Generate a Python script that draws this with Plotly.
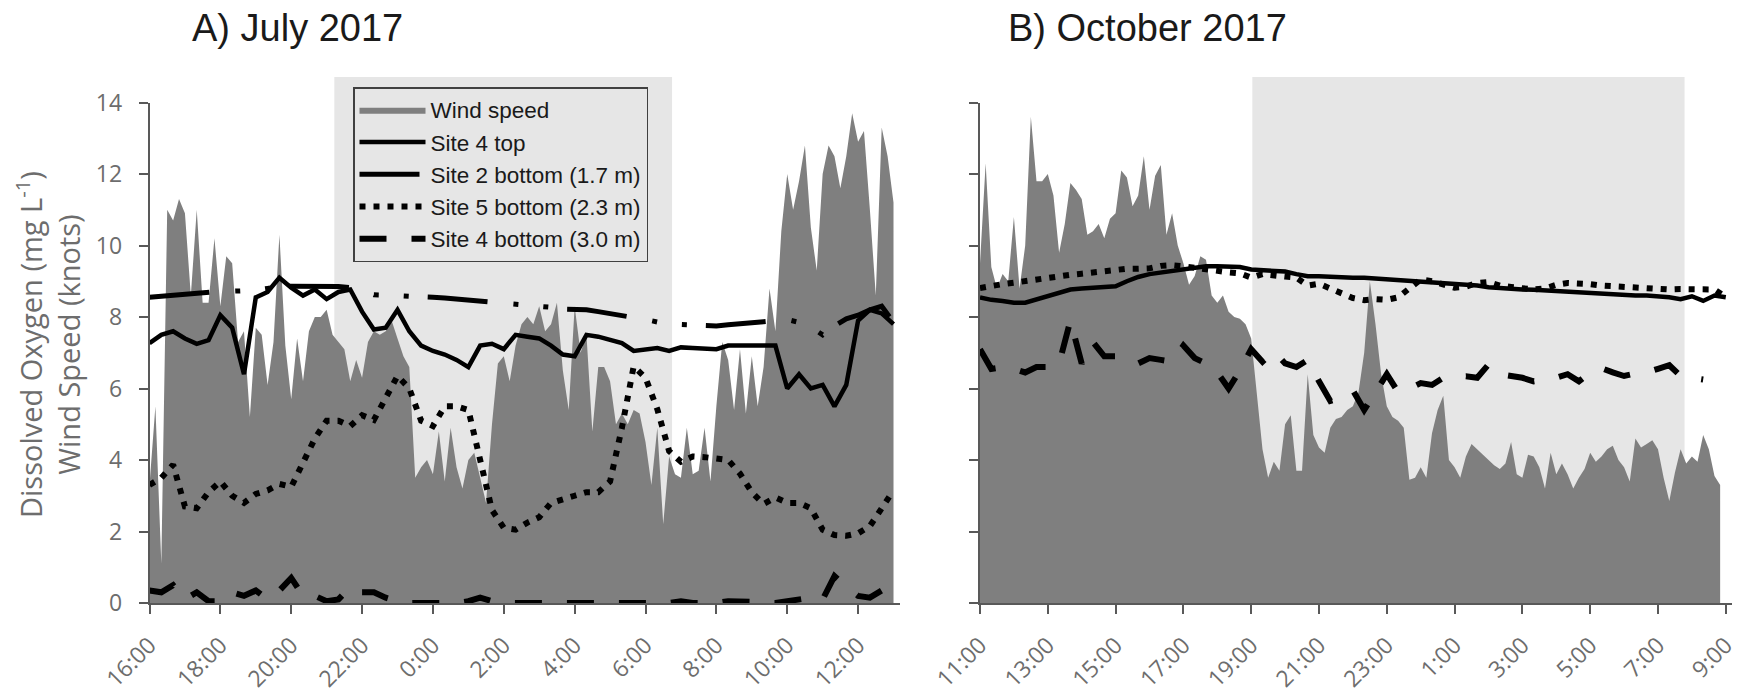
import pandas as pd
import plotly.graph_objects as go

# ---------------- Panel A: July 2017 ----------------
A_START = "2017-07-19 16:00"
A_END = "2017-07-20 13:11"
A_NIGHT = ["2017-07-19 21:13", "2017-07-20 06:45"]
A_TICK_LABELS = ["16:00", "18:00", "20:00", "22:00", "0:00", "2:00",
                 "4:00", "6:00", "8:00", "10:00", "12:00"]

# wind speed (knots), 10-min steps from 16:00
wind_A = [3.3, 5.5, 1.1, 11.0, 10.7, 11.3, 10.9, 8.6, 11.0, 8.4,
          8.4, 10.2, 8.3, 9.7, 9.5, 7.3, 7.6, 5.2, 7.7, 7.5,
          6.1, 7.3, 10.3, 7.2, 5.7, 7.4, 6.2, 7.6, 8.0, 8.0,
          8.2, 7.5, 7.3, 7.1, 6.2, 6.8, 6.3, 7.3, 7.6, 7.5,
          7.6, 7.9, 7.4, 6.9, 6.6, 3.5, 3.8, 4.0, 3.6, 4.8,
          3.4, 4.9, 3.8, 3.2, 4.0, 4.2, 3.5, 2.8, 5.0, 6.7,
          6.9, 6.2, 7.2, 7.8, 8.0, 7.8, 8.3, 7.6, 7.8, 8.4,
          6.5, 5.4, 8.3, 7.0, 7.5, 4.8, 6.6, 6.6, 6.2, 5.0,
          5.3, 5.0, 5.4, 5.3, 4.5, 3.3, 4.9, 2.2, 4.1, 3.6,
          3.5, 4.9, 3.6, 3.7, 4.9, 3.4, 5.5, 7.3, 6.8, 5.4,
          7.1, 5.3, 6.9, 5.5, 6.6, 8.8, 7.6, 10.4, 12.0, 11.0,
          11.8, 12.8, 10.5, 9.3, 12.0, 12.8, 12.5, 11.6, 12.5, 13.7,
          12.9, 13.2, 11.0, 8.6, 13.3, 12.5, 11.2]

# dissolved oxygen (mg/L), 20-min steps from 16:00
site4_top_A = [7.27, 7.5, 7.6, 7.4, 7.25, 7.35, 8.05, 7.7, 6.4, 8.55,
               8.7, 9.1, 8.82, 8.6, 8.77, 8.5, 8.7, 8.77, 8.15, 7.65,
               7.7, 8.2, 7.6, 7.2, 7.05, 6.95, 6.8, 6.6, 7.2, 7.25,
               7.1, 7.5, 7.45, 7.4, 7.2, 6.95, 6.9, 7.5, 7.45, 7.35,
               7.27, 7.05, 7.1, 7.13, 7.05, 7.15, 7.13, 7.1, 7.1, 7.2,
               7.2, 7.2, 7.22, 7.2, 6.0, 6.4, 6.0, 6.1, 5.5, 6.1,
               7.9, 8.2, 8.1, 7.8]
site2_bottom_A = [8.55, 8.58, 8.6, 8.63, 8.65, 8.7, 8.72, 8.72, 8.72, 8.75,
                  8.8, 8.85, 8.86, 8.86, 8.86, 8.85, 8.85, 8.82, 8.75, 8.62,
                  8.62, 8.6, 8.58, 8.55, 8.55, 8.53, 8.5, 8.48, 8.45, 8.44,
                  8.4, 8.35, 8.32, 8.3, 8.27, 8.22, 8.21, 8.2, 8.15, 8.1,
                  8.05, 8.0, 7.93, 7.86, 7.8, 7.79, 7.77, 7.74, 7.75, 7.78,
                  7.8, 7.83, 7.87, 7.9, 7.93, 7.85, 7.72, 7.5, 7.75, 7.95,
                  8.05, 8.2, 8.3, 7.85]
site5_bottom_A = [3.3, 3.5, 3.87, 2.7, 2.65, 3.1, 3.4, 3.0, 2.8, 3.05,
                  3.15, 3.33, 3.25, 3.9, 4.6, 5.1, 5.1, 4.95, 5.25, 5.12,
                  5.75, 6.35, 6.0, 5.1, 4.95, 5.5, 5.5, 5.4, 4.0, 2.6,
                  2.1, 2.05, 2.25, 2.4, 2.8, 2.88, 3.0, 3.1, 3.1, 3.4,
                  4.9, 6.62, 6.3, 5.42, 4.25, 3.95, 4.1, 4.08, 4.05, 4.0,
                  3.62, 3.1, 2.77, 2.95, 2.8, 2.8, 2.65, 2.05, 1.9, 1.88,
                  1.95, 2.15, 2.65, 3.15]
site4_bottom_A = [0.35, 0.3, 0.5, 0.1, 0.3, 0.05, 0.05, 0.3, 0.2, 0.35,
                  0.1, 0.35, 0.7, 0.2, 0.2, 0.05, 0.1, 0.45, 0.3, 0.3,
                  0.15, 0.05, 0.0, 0.0, 0.0, 0.0, 0.0, 0.05, 0.15, 0.05,
                  0.0, 0.0, 0.0, 0.0, 0.0, 0.0, 0.0, 0.0, 0.0, 0.0,
                  0.0, 0.02, 0.02, 0.0, 0.0, 0.05, 0.0, 0.0, 0.0, 0.05,
                  0.05, 0.03, 0.0, 0.0, 0.05, 0.1, 0.15, 0.1, 0.75, 0.45,
                  0.2, 0.15, 0.35, 0.45]

# ---------------- Panel B: October 2017 ----------------
B_START = "2017-10-17 11:00"
B_END = "2017-10-18 09:11"
B_NIGHT = ["2017-10-17 19:02", "2017-10-18 07:47"]
B_TICK_LABELS = ["11:00", "13:00", "15:00", "17:00", "19:00", "21:00",
                 "23:00", "1:00", "3:00", "5:00", "7:00", "9:00"]

wind_B = [9.5, 12.3, 9.4, 8.8, 9.2, 9.0, 10.8, 8.8, 10.0, 13.6,
          11.8, 11.8, 12.0, 11.4, 9.8, 10.6, 11.75, 11.55, 11.3, 10.3,
          10.4, 10.6, 10.2, 10.75, 10.9, 12.1, 11.9, 11.1, 11.4, 12.5,
          11.0, 11.95, 12.25, 10.3, 10.9, 10.0, 9.5, 8.9, 9.15, 9.7,
          9.6, 8.6, 8.4, 8.6, 8.15, 8.0, 7.95, 7.8, 7.4, 5.9,
          4.3, 3.5, 3.95, 3.7, 5.0, 5.25, 3.7, 3.7, 6.4, 4.7,
          4.35, 4.2, 4.9, 5.15, 5.2, 5.4, 5.5, 5.9, 7.0, 9.0,
          7.8, 6.4, 5.5, 5.2, 5.1, 4.9, 3.45, 3.5, 3.8, 3.5,
          4.75, 5.4, 5.8, 4.0, 3.8, 3.5, 4.1, 4.45, 4.3, 4.15,
          4.0, 3.85, 3.75, 3.9, 4.5, 3.6, 3.5, 4.15, 4.1, 3.8,
          3.2, 4.2, 3.6, 3.9, 3.6, 3.2, 3.5, 3.75, 4.2, 3.95,
          4.1, 4.3, 4.4, 4.0, 3.8, 3.4, 4.6, 4.35, 4.45, 4.55,
          4.3, 3.5, 2.85, 3.65, 4.3, 3.9, 4.1, 3.95, 4.7, 4.3,
          3.55, 3.3]

site4_top_B = [8.55, 8.48, 8.45, 8.4, 8.4, 8.5, 8.6, 8.7, 8.77, 8.8,
               8.83, 8.85, 8.86, 9.0, 9.12, 9.2, 9.25, 9.3, 9.34, 9.4,
               9.42, 9.42, 9.42, 9.4, 9.33, 9.3, 9.28, 9.27, 9.2, 9.14,
               9.14, 9.12, 9.12, 9.1, 9.1, 9.08, 9.06, 9.04, 9.02, 9.0,
               8.98, 8.97, 8.95, 8.92, 8.88, 8.83, 8.8, 8.78, 8.77, 8.76,
               8.74, 8.72, 8.7, 8.68, 8.66, 8.65, 8.64, 8.62, 8.6, 8.6,
               8.58, 8.55, 8.5, 8.58, 8.45, 8.6, 8.55]
site5_bottom_B = [8.81, 8.88, 8.92, 8.96, 9.01, 9.06, 9.1, 9.14, 9.18, 9.21,
                  9.25, 9.28, 9.33, 9.35, 9.35, 9.36, 9.43, 9.45, 9.42, 9.37,
                  9.32, 9.26, 9.25, 9.22, 9.1, 9.2, 9.15, 9.13, 9.1, 8.88,
                  8.93, 8.8, 8.7, 8.53, 8.47, 8.5, 8.48, 8.55, 8.8, 9.05,
                  9.0, 8.92, 8.82, 8.85, 8.95, 8.98, 8.88, 8.84, 8.8, 8.77,
                  8.8, 8.9, 8.95, 8.95, 8.92, 8.88, 8.86, 8.86, 8.8, 8.78,
                  8.78, 8.77, 8.78, 8.77, 8.77, 8.77, 8.56]
site4_bottom_B = [7.1, 6.55, 6.6, 6.55, 6.45, 6.6, 6.6, 6.7, 7.9, 6.7,
                  7.3, 6.9, 6.9, 6.75, 6.7, 6.85, 6.8, 6.75, 7.2, 6.85,
                  6.7, 6.45, 6.0, 6.5, 7.1, 6.75, 7.05, 6.7, 6.6, 6.8,
                  6.2, 5.65, 5.75, 5.95, 5.4, 5.9, 6.4, 5.9, 6.0, 6.15,
                  6.1, 6.3, 6.32, 6.34, 6.3, 6.67, 6.4, 6.35, 6.3, 6.2,
                  6.25, 6.3, 6.4, 6.2, 6.45, 6.57, 6.45, 6.35, 6.42, 6.45,
                  6.55, 6.65, 6.35, 6.3, 6.25]

Y_TICKS = [0, 2, 4, 6, 8, 10, 12, 14]

# ---------------- layout geometry (page pixels) ----------------
W, H = 1744, 697
OFF = 8  # the page body adds an 8 px offset on the left and top


def px(x):
    return (x - OFF) / W


def py(y):
    return 1 - (y - OFF) / H


XA_DOM = [px(149.5), px(900)]
XB_DOM = [px(980), px(1732)]
Y_DOM = [py(603), py(102.5)]
SHADE_TOP = py(77)

WIND_COLOR = "#7f7f7f"
SHADE_COLOR = "#e6e6e6"
AXIS_COLOR = "#595959"
TICK_FONT = dict(family="Open Sans", size=23, color="#6d6d6d")

STYLES = {
    "Site 4 top": dict(color="black", width=4.5),
    "Site 2 bottom (1.7 m)": dict(color="black", width=5, dash="60px,26px,5px,25px,5px,19px"),
    "Site 5 bottom (2.3 m)": dict(color="black", width=6, dash="6px,8px"),
    "Site 4 bottom (3.0 m)": dict(color="black", width=6, dash="27px,25px"),
}

fig = go.Figure()


def add_panel(start, wind, series, xa, ya, showlegend):
    t10 = pd.date_range(start, periods=len(wind), freq="10min")
    fig.add_trace(go.Scatter(
        x=t10, y=wind, mode="lines", name="Wind speed", legendgroup="wind",
        line=dict(width=0, color=WIND_COLOR), fill="tozeroy", fillcolor=WIND_COLOR,
        xaxis=xa, yaxis=ya, showlegend=showlegend))
    for name, vals in series:
        t20 = pd.date_range(start, periods=len(vals), freq="20min")
        fig.add_trace(go.Scatter(
            x=t20, y=vals, mode="lines", name=name, legendgroup=name,
            line=STYLES[name], xaxis=xa, yaxis=ya, showlegend=showlegend))


add_panel(A_START, wind_A, [
    ("Site 4 top", site4_top_A),
    ("Site 2 bottom (1.7 m)", site2_bottom_A),
    ("Site 5 bottom (2.3 m)", site5_bottom_A),
    ("Site 4 bottom (3.0 m)", site4_bottom_A),
], "x", "y", True)

add_panel(B_START, wind_B, [
    ("Site 4 top", site4_top_B),
    ("Site 5 bottom (2.3 m)", site5_bottom_B),
    ("Site 4 bottom (3.0 m)", site4_bottom_B),
], "x2", "y2", False)

# night shading
for xref, night in (("x", A_NIGHT), ("x2", B_NIGHT)):
    fig.add_shape(type="rect", xref=xref, yref="paper",
                  x0=night[0], x1=night[1], y0=Y_DOM[0], y1=SHADE_TOP,
                  fillcolor=SHADE_COLOR, line=dict(width=0), layer="below")

common_x = dict(type="date", tickangle=-45, ticks="outside", ticklen=9, tickwidth=1.5,
                tickcolor=AXIS_COLOR, showline=True, linecolor=AXIS_COLOR, linewidth=1.5,
                showgrid=False, zeroline=False, tickfont=TICK_FONT, automargin=False,
                ticklabelstandoff=9)
common_y = dict(range=[0, 14], tickvals=Y_TICKS, ticks="outside", ticklen=9, tickwidth=1.5,
                tickcolor=AXIS_COLOR, showline=True, linecolor=AXIS_COLOR, linewidth=1.5,
                showgrid=False, zeroline=False, tickfont=TICK_FONT, domain=Y_DOM,
                automargin=False, ticklabelstandoff=12)

fig.update_layout(
    template="none",
    width=W, height=H, autosize=False,
    margin=dict(l=0, r=0, t=0, b=0, pad=0, autoexpand=False),
    paper_bgcolor="white", plot_bgcolor="rgba(0,0,0,0)",
    xaxis=dict(common_x, domain=XA_DOM, anchor="y", range=[A_START, A_END],
               tickvals=list(pd.date_range(A_START, periods=len(A_TICK_LABELS), freq="2h")),
               ticktext=A_TICK_LABELS),
    yaxis=dict(common_y, anchor="x"),
    xaxis2=dict(common_x, domain=XB_DOM, anchor="y2", range=[B_START, B_END],
                tickvals=list(pd.date_range(B_START, periods=len(B_TICK_LABELS), freq="2h")),
                ticktext=B_TICK_LABELS),
    yaxis2=dict(common_y, anchor="x2", showticklabels=False),
    legend=dict(x=px(353), y=py(87), xanchor="left", yanchor="top",
                bgcolor="rgba(0,0,0,0)", bordercolor="#404040", borderwidth=1.5,
                font=dict(family="Liberation Sans", size=22.5, color="#1a1a1a"),
                tracegroupgap=0, itemwidth=66),
    annotations=[
        dict(text="A) July 2017", x=px(190), y=py(28), xref="paper", yref="paper",
             xanchor="left", yanchor="middle", showarrow=False,
             font=dict(family="Liberation Sans", size=38, color="#1a1a1a")),
        dict(text="B) October 2017", x=px(1006), y=py(28), xref="paper", yref="paper",
             xanchor="left", yanchor="middle", showarrow=False,
             font=dict(family="Liberation Sans", size=38, color="#1a1a1a")),
        dict(text="Dissolved Oxygen (mg L<sup>-1</sup>)<br>Wind Speed (knots)",
             x=px(48), y=py(345), xref="paper", yref="paper", textangle=-90,
             xanchor="center", yanchor="middle", showarrow=False, borderpad=0,
             font=dict(family="Open Sans", size=29, color="#6d6d6d")),
    ],
)

fig.write_html("out.html")
